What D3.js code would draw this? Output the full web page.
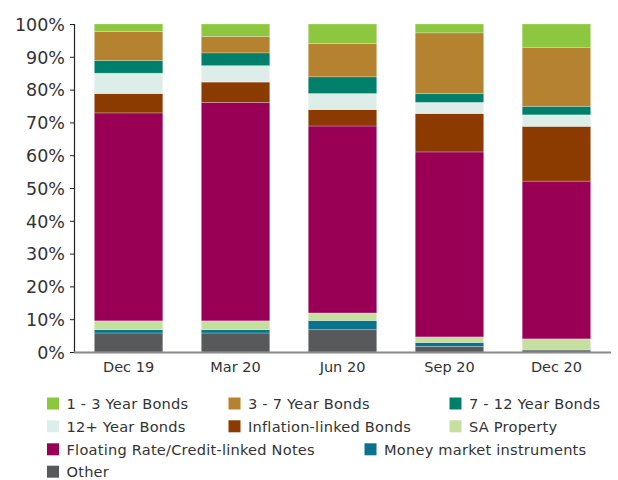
<!DOCTYPE html>
<html><head><meta charset="utf-8">
<script src="https://cdn.jsdelivr.net/npm/d3@7"></script>
<style>body{margin:0;background:#fff}svg{display:block}text{font-family:"DejaVu Sans","Noto Sans",sans-serif;fill:#333}</style>
</head><body>
<svg id="c" width="618" height="480"></svg>
<script>
const categories = ["Dec 19","Mar 20","Jun 20","Sep 20","Dec 20"];
const seriesNames = ["Other","Money market instruments","SA Property","Floating Rate/Credit-linked Notes","Inflation-linked Bonds","12+ Year Bonds","7 - 12 Year Bonds","3 - 7 Year Bonds","1 - 3 Year Bonds"];
const other      = [5.8, 5.8, 6.8, 1.7, 0.6];
const moneyMkt   = [1.0, 1.0, 2.8, 1.2, 0.0];
const saProperty = [2.7, 2.7, 2.3, 1.7, 3.4];
const floating   = [63.4,66.6,57.0,56.4,48.1];
const inflation  = [5.9, 6.2, 5.0, 11.7,16.7];
const bonds12p   = [6.2, 5.0, 4.9, 3.4, 3.5];
const bonds7_12  = [3.9, 3.9, 5.1, 2.7, 2.6];
const bonds3_7   = [8.8, 5.0, 10.2,18.5,18.0];
const bonds1_3   = [2.3, 3.8, 5.9, 2.7, 7.1];
const yTicks = [0,10,20,30,40,50,60,70,80,90,100];
const colors = ["#58595b","#0a728a","#c5df9f","#990055","#8b3a00","#ddeeea","#00806a","#b5832f","#8dc63f"];

const seriesVals = [other,moneyMkt,saProperty,floating,inflation,bonds12p,bonds7_12,bonds3_7,bonds1_3];
const table = categories.map((c,i)=>{const o={cat:c}; seriesNames.forEach((s,j)=>o[s]=seriesVals[j][i]); return o;});
const stack = d3.stack().keys(seriesNames)(table);

const svg = d3.select("#c");
const x = d3.scaleBand().domain(categories).range([74,611]).paddingInner(0.36).paddingOuter(0.19);
const y = d3.scaleLinear().domain([0,100]).range([352,24]);

svg.append("g").selectAll("g").data(stack).join("g")
  .attr("fill",(d,i)=>colors[i])
  .selectAll("rect").data(d=>d).join("rect")
  .attr("x",d=>x(d.data.cat)).attr("width",x.bandwidth())
  .attr("y",d=>y(d[1])).attr("height",d=>Math.max(0,y(d[0])-y(d[1])))
  .attr("stroke","#ffffff").attr("stroke-opacity",0.35).attr("stroke-width",0.7);

// y axis
const ya = svg.append("g").attr("transform","translate(74,0)")
  .call(d3.axisLeft(y).tickValues(yTicks).tickFormat(d=>d+"%").tickSize(4).tickPadding(5));
ya.select(".domain").attr("stroke","#222").attr("stroke-width",1.2);
ya.selectAll(".tick line").attr("stroke","#222");
ya.selectAll(".tick text").attr("font-size",17.5).attr("fill","#404040").attr("dy","0.36em");

// x axis
const xa = svg.append("g").attr("transform","translate(0,352)")
  .call(d3.axisBottom(x).tickSize(0).tickPadding(10));
xa.select(".domain").attr("stroke","#8a8a8a").attr("stroke-width",2).attr("d","M74,0.5H611");
xa.selectAll(".tick text").attr("font-size",14.5).attr("fill","#404040").attr("dy","0.72em");

// legend
const legendOrder = ["1 - 3 Year Bonds","3 - 7 Year Bonds","7 - 12 Year Bonds","12+ Year Bonds","Inflation-linked Bonds","SA Property","Floating Rate/Credit-linked Notes","Money market instruments","Other"];
const colX = [47,228.5,449.5];
const rowY = [403.5,426.3,449.3,471.7];
const lg = svg.append("g");
legendOrder.forEach((n,i)=>{
  let r,cx;
  if(i<6){r=Math.floor(i/3); cx=colX[i%3];}
  else if(i===6){r=2; cx=colX[0];}
  else if(i===7){r=2; cx=364.5;}
  else {r=3; cx=colX[0];}
  const g = lg.append("g").attr("transform",`translate(${cx},${rowY[r]})`);
  g.append("rect").attr("x",0).attr("y",-6).attr("width",12).attr("height",12).attr("fill",colors[seriesNames.indexOf(n)]);
  g.append("text").attr("x",19.5).attr("y",0).attr("dy","0.36em").attr("font-size",14.6).attr("letter-spacing",0.22).attr("fill","#404040").text(n);
});
</script>
</body></html>
